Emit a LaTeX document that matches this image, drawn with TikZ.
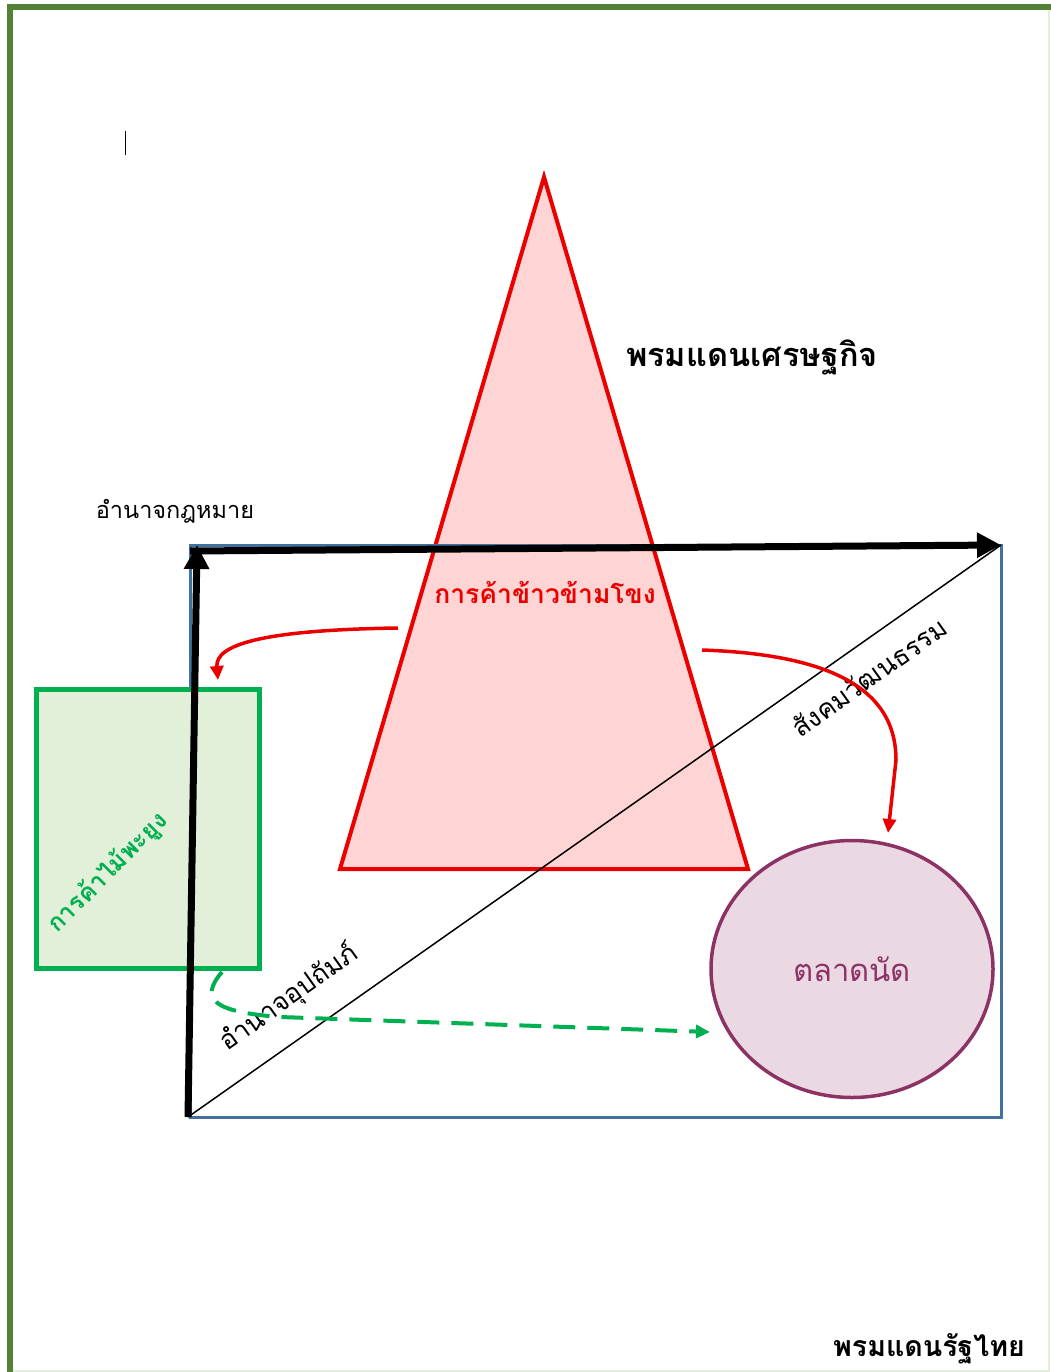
\documentclass[tikz,border=0pt]{standalone}
\usepackage{fontspec}
\newfontfamily\thaifont[Script=Thai]{Loma}
\usetikzlibrary{arrows.meta,shapes.geometric}

\definecolor{framegreen}{RGB}{84,130,53}
\definecolor{palegreen}{RGB}{226,240,217}
\definecolor{boxgreen}{RGB}{0,176,80}
\definecolor{trired}{RGB}{235,0,0}
\definecolor{tripink}{RGB}{255,212,212}
\definecolor{axisblue}{RGB}{65,113,156}
\definecolor{plum}{RGB}{140,50,100}
\definecolor{plumfill}{RGB}{234,217,227}

\tikzset{
  thai/.style={inner sep=0pt, font=\thaifont\fontsize{#1}{#1}\selectfont},
  thaibold/.style={inner sep=0pt, font=\thaifont\bfseries\fontsize{#1}{#1}\selectfont},
  bigarrow/.style={line width=7pt, -{Triangle[length=24pt,width=24pt]}},
  redarrow/.style={trired, line width=3.5pt, -{Triangle[length=14pt,width=13pt]}},
}

\begin{document}
\begin{tikzpicture}[x=1pt,y=-1pt]
  \useasboundingbox (0,0) rectangle (1051,1372);

  % page frame
  \draw[framegreen, line width=6pt] (10,1372) -- (10,7) -- (1051,7);
  \draw[palegreen, line width=2pt] (1049,10) -- (1049,1371) -- (13,1371);
  \draw[line width=1pt] (125,131) -- (125,155);

  % economic triangle
  \draw[trired, line width=4pt, fill=tripink, line join=miter]
    (544,177) -- (748,869) -- (340,869) -- cycle;

  % state box
  \draw[axisblue, line width=3pt] (190,545) rectangle (1001,1117);

  % teak and market
  \node[draw=boxgreen, line width=5pt, fill=palegreen,
        minimum width=223pt, minimum height=279pt] (teak) at (147.5,828.5) {};
  \node[ellipse, draw=plum, line width=3.5pt, fill=plumfill,
        minimum width=282pt, minimum height=257pt] (market) at (852,969) {};
  \node[thai=31, text=plum] at (market.center) {ตลาดนัด};

  % axes
  \coordinate (O) at (188,1117);
  \coordinate (L) at (197,545);
  \coordinate (E) at (1001,545);
  \draw[bigarrow] (O) -- (L);
  \draw[bigarrow] (190,551) -- (E);
  \draw[line width=1.5pt] (O) -- (E);

  % labels
  \node[thaibold=32.5] (econ) at (752,357) {พรมแดนเศรษฐกิจ};
  \node[thai=23.5] (law) at (175,511) {อำนาจกฎหมาย};
  \node[thaibold=26.5, text=trired] (rice) at (545,592) {การค้าข้าวข้ามโขง};
  \node[thai=26.5, rotate=35.5] (culture) at (869,677) {สังคมวัฒนธรรม};
  \node[thai=26.5, rotate=35.5] (patron) at (289,998) {อำนาจอุปถัมภ์};
  \node[thaibold=24.5, text=boxgreen, rotate=45] (teaklabel) at (108,873) {การค้าไม้พะยูง};
  \node[thaibold=28.5] (border) at (929,1349) {พรมแดนรัฐไทย};

  % flows
  \coordinate (riceW) at (398,628);
  \coordinate (riceE) at (702,650);
  \coordinate (teakN) at (218,680);
  \coordinate (marketN) at (888,833);
  \coordinate (teakS) at (222,972);
  \coordinate (marketW) at (710,1032);
  \draw[redarrow] (riceW) .. controls (260,630) and (215,645) .. (teakN);
  \draw[redarrow] (riceE) .. controls (850,655) and (896,700) .. (896,760) -- (marketN);
  \draw[boxgreen, line width=4pt, dash pattern=on 22pt off 12pt,
        -{Triangle[length=14pt,width=13pt]}]
    (teakS) .. controls (198,1000) and (215,1012) .. (280,1017) -- (marketW);
\end{tikzpicture}
\end{document}
